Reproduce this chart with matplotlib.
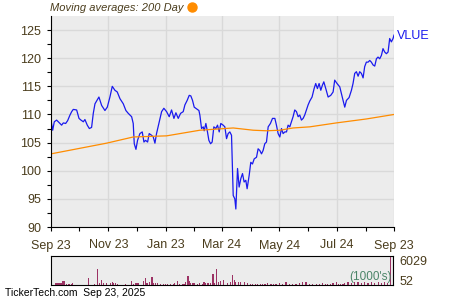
import numpy as np
import matplotlib.pyplot as plt
from matplotlib.lines import Line2D

plt.rcParams['font.family'] = ['Liberation Sans', 'DejaVu Sans']

# Price (days since start, close)
price_days = [0, 1.8, 3.5, 6, 8.9, 11.3, 13.1, 15.6, 17.7, 20.2, 22, 23.7, 27.3, 29.8,
              31.9, 34.4, 36.1, 38.6, 40.8, 43.2, 45, 46.8, 51, 53.9, 57.4, 59.9, 62.7,
              65.2, 68, 70.5, 73.4, 76.9, 79.7, 82.2, 85.8, 87.5, 88.6, 90.4, 92.1, 94.6,
              97.1, 98.9, 100.6, 102.8, 104.5, 107, 108.8, 110.6, 112.3, 115.2, 117.7,
              120.1, 123, 125.8, 128.3, 130.8, 132.9, 135.4, 137.9, 140.7, 142.5, 144.9,
              147.1, 148.8, 150.6, 152.4, 154.9, 157.4, 158.4, 160.2, 162, 163, 164.8,
              166.2, 168, 169.8, 171.5, 173.3, 175.4, 177.2, 179, 180.7, 183.2, 185,
              186.8, 188.5, 190.3, 192.1, 193.9, 195.6, 196.7, 198.5, 200.2, 202, 203.8,
              205.5, 207.3, 208.7, 210.9, 212.6, 214.4, 216.2, 218.7, 220.4, 222.2, 224,
              225.7, 227.5, 229.3, 231.1, 233.5, 235.7, 238.2, 239.9, 241.7, 243.5,
              245.3, 247, 248.8, 250.6, 252.3, 254.1, 255.9, 257.6, 259.4, 261.2, 263,
              264.7, 266.5, 268.3, 270, 271.8, 273.6, 275.4, 277.8, 280, 281.7, 283.5,
              285.3, 287.1, 288.8, 290.3, 292.4, 294.9, 297.7, 300.2, 301.9, 304.4,
              307.3, 309, 310.8, 312.6, 314.4, 317.2, 319.7, 321.4, 323.2, 325, 326.8,
              328.5, 330.3, 332.1, 333.8, 335.6, 337.4, 339.2, 340.9, 342.7, 344.5,
              346.3, 348, 349.8, 351.6, 353.3, 355.1, 356.9, 358.7, 360.4, 362.2, 364, 365]
price = [108.9, 107.2, 108.7, 109.0, 108.5, 108.1, 108.5, 108.4, 108.9, 109.9, 110.5,
         110.9, 110.8, 109.3, 109.0, 108.7, 109.1, 108.1, 107.5, 107.7, 110.2, 111.9,
         113.1, 111.6, 110.7, 111.3, 113.1, 115.0, 114.3, 114.0, 112.8, 111.9, 110.7,
         110.2, 109.6, 108.4, 104.8, 103.8, 105.4, 106.6, 106.9, 105.1, 105.4, 105.1,
         106.6, 106.3, 106.0, 104.9, 106.6, 108.7, 110.5, 111.1, 110.5, 109.6, 110.8,
         109.3, 110.3, 109.3, 110.2, 110.5, 111.7, 112.5, 113.4, 113.3, 112.5, 111.3,
         111.0, 110.7, 109.9, 107.5, 107.8, 107.1, 108.4, 107.2, 105.4, 104.8, 105.1,
         107.8, 107.5, 108.1, 106.9, 108.4, 108.1, 107.8, 105.7, 106.6, 106.9, 106.3,
         95.6, 95.0, 93.2, 100.4, 97.1, 98.6, 99.5, 98.0, 98.3, 96.8, 99.2, 101.5,
         101.2, 102.1, 102.4, 103.9, 103.6, 103.0, 103.6, 104.8, 105.1, 107.8, 108.4,
         109.3, 109.3, 108.1, 106.6, 106.0, 107.5, 106.6, 106.9, 106.9, 108.1, 107.8,
         108.7, 109.6, 110.8, 110.5, 109.6, 109.9, 109.0, 109.3, 109.9, 110.8, 111.7,
         112.4, 113.1, 114.6, 115.5, 114.6, 115.5, 114.3, 115.2, 115.8, 114.6, 113.1,
         113.4, 114.0, 116.1, 115.5, 114.9, 113.7, 112.5, 111.3, 112.5, 113.0, 114.3,
         115.5, 117.3, 117.6, 116.8, 117.6, 117.3, 116.5, 118.5, 119.3, 119.3, 119.6,
         119.3, 118.8, 118.6, 119.9, 120.2, 119.9, 120.5, 121.7, 121.1, 120.8, 121.1,
         123.5, 122.9, 123.5, 124.1]

# 200 day moving average
ma_days = [0, 59.2, 87.5, 123, 158.4, 193.9, 215.3, 229.3, 243.5, 257.6, 275.4, 303.7, 335.6, 365]
ma200 = [103.0, 104.9, 106.0, 106.2, 107.2, 107.6, 107.2, 107.1, 107.2, 107.6, 107.8, 108.5, 109.2, 110.0]

# Volume (1000's)
vol_days = [0.7, 5.3, 7.4, 9.6, 11.3, 12.8, 13.8, 16.7, 19.1, 22, 23, 39.7, 46.1, 49.3, 51.4,
            53.2, 55.6, 58.5, 62.7, 64.9, 66.3, 68, 70.5, 78.7, 85.1, 87.5, 89.3, 91.1, 92.9,
            98.2, 99.9, 101.7, 104.2, 107, 108.8, 110.9, 113, 115.9, 118.7, 121.2, 123.7,
            126.5, 129.3, 130.8, 134.3, 136.4, 138.9, 140.7, 142.4, 144.9, 146.4, 147.8,
            149.6, 151.3, 154.9, 157.3, 160.2, 161.9, 163.7, 166.2, 169, 171.5, 172.6,
            175.4, 177.2, 179.7, 182.5, 186.8, 189.6, 192.1, 193.9, 195.6, 198.1, 200.9,
            204.5, 208, 210.9, 213.3, 216.2, 218.7, 221.5, 224, 226.5, 229.3, 232.8, 235.7,
            238.2, 241.7, 245.3, 248.8, 252.3, 255.9, 259.4, 262.9, 266.5, 270, 273.6,
            277.1, 280.7, 284.2, 287.7, 290.3, 293, 295.9, 298.4, 301.9, 304.4, 306.5, 309,
            310.8, 314.4, 317.9, 321.4, 325, 328.5, 332.1, 335.6, 339.2, 342.7, 346.3,
            349.8, 353.3, 356.2, 359]
volume = [210, 350, 350, 350, 350, 830, 830, 280, 280, 280, 350, 1390, 210, 3330, 350,
          970, 350, 350, 350, 550, 350, 350, 280, 280, 830, 280, 350, 350, 350, 830, 1390,
          350, 550, 1660, 420, 420, 420, 280, 280, 280, 210, 210, 210, 350, 830, 280, 280,
          280, 550, 1940, 830, 350, 350, 350, 210, 350, 210, 550, 350, 350, 350, 2290, 480,
          3330, 550, 830, 1040, 350, 550, 2080, 1040, 550, 550, 550, 550, 350, 280, 210,
          210, 280, 210, 210, 210, 420, 280, 210, 210, 350, 210, 690, 280, 280, 280, 480,
          550, 550, 280, 210, 210, 210, 350, 210, 280, 210, 420, 690, 210, 210, 210, 350,
          550, 420, 550, 550, 420, 550, 420, 550, 420, 550, 420, 550, 420, 6029]

tick_days = [0, 61, 122, 182, 243, 304, 365]
tick_labels = ["Sep 23", "Nov 23", "Jan 23", "Mar 24", "May 24", "Jul 24", "Sep 23"]
minor_days = [30, 91, 152, 213, 274, 335]

txt = '#4a3c1c'
bg = '#ececec'
grid = '#d9d9d9'

fig = plt.figure(figsize=(4.5, 3), dpi=100)
ax = fig.add_axes([51 / 450, 1 - 227 / 300, 343 / 450, 211 / 300])
ax.set_facecolor(bg)
ax.plot(price_days, price, color='#1a1aee', lw=0.9)
ax.plot(ma_days, ma200, color='#ff8c00', lw=0.9)
ax.set_xlim(0, 365)
ax.set_ylim(90, 127.5)
ax.set_yticks(np.arange(90, 126, 5))
ax.set_yticks(np.arange(92.5, 127, 5), minor=True)
ax.set_xticks(tick_days)
ax.set_xticklabels(tick_labels)
ax.set_xticks(minor_days, minor=True)
ax.grid(True, which='major', color=grid, lw=1)
ax.set_axisbelow(True)
for s in ['top', 'right']:
    ax.spines[s].set_visible(False)
ax.tick_params(axis='both', which='both', length=3, width=0.8, colors='black',
               labelcolor=txt, labelsize=9)
ax.tick_params(axis='y', pad=4)
ax.tick_params(axis='x', pad=6)

ax.text(1.008, 0.905, 'VLUE', transform=ax.transAxes, color='#1a1aee', fontsize=9,
        va='center', ha='left')
fig.text(50 / 450, 1 - 8 / 300, 'Moving averages: 200 Day', fontsize=8, style='italic',
         color=txt, va='center', ha='left')
fig.add_artist(Line2D([192 / 450], [1 - 7 / 300], transform=fig.transFigure, marker='o',
                      markersize=6.5, color='#ff8c00', linestyle='none'))

vax = fig.add_axes([51 / 450, 1 - 285 / 300, 342 / 450, 29 / 300])
vax.set_facecolor(bg)
vax.bar(vol_days, volume, width=1.3, color='#9c3264', linewidth=0)
vax.set_xlim(0, 362)
vax.set_ylim(0, 6029)
vax.set_xticks([])
vax.set_yticks([])
vax.text(0.995, 0.06, "(1000's)", transform=vax.transAxes, color='#3a7a5a', fontsize=8.5,
         ha='right', va='bottom', alpha=0.9)
vax.text(1.02, 0.78, '6029', transform=vax.transAxes, color=txt, fontsize=9, va='center')
vax.text(1.02, 0.12, '52', transform=vax.transAxes, color=txt, fontsize=9, va='center')

fig.text(5 / 450, 1 - 293 / 300, 'TickerTech.com  Sep 23, 2025', fontsize=7.5,
         color='black', va='center', ha='left')

fig.savefig('out.png', dpi=100)
